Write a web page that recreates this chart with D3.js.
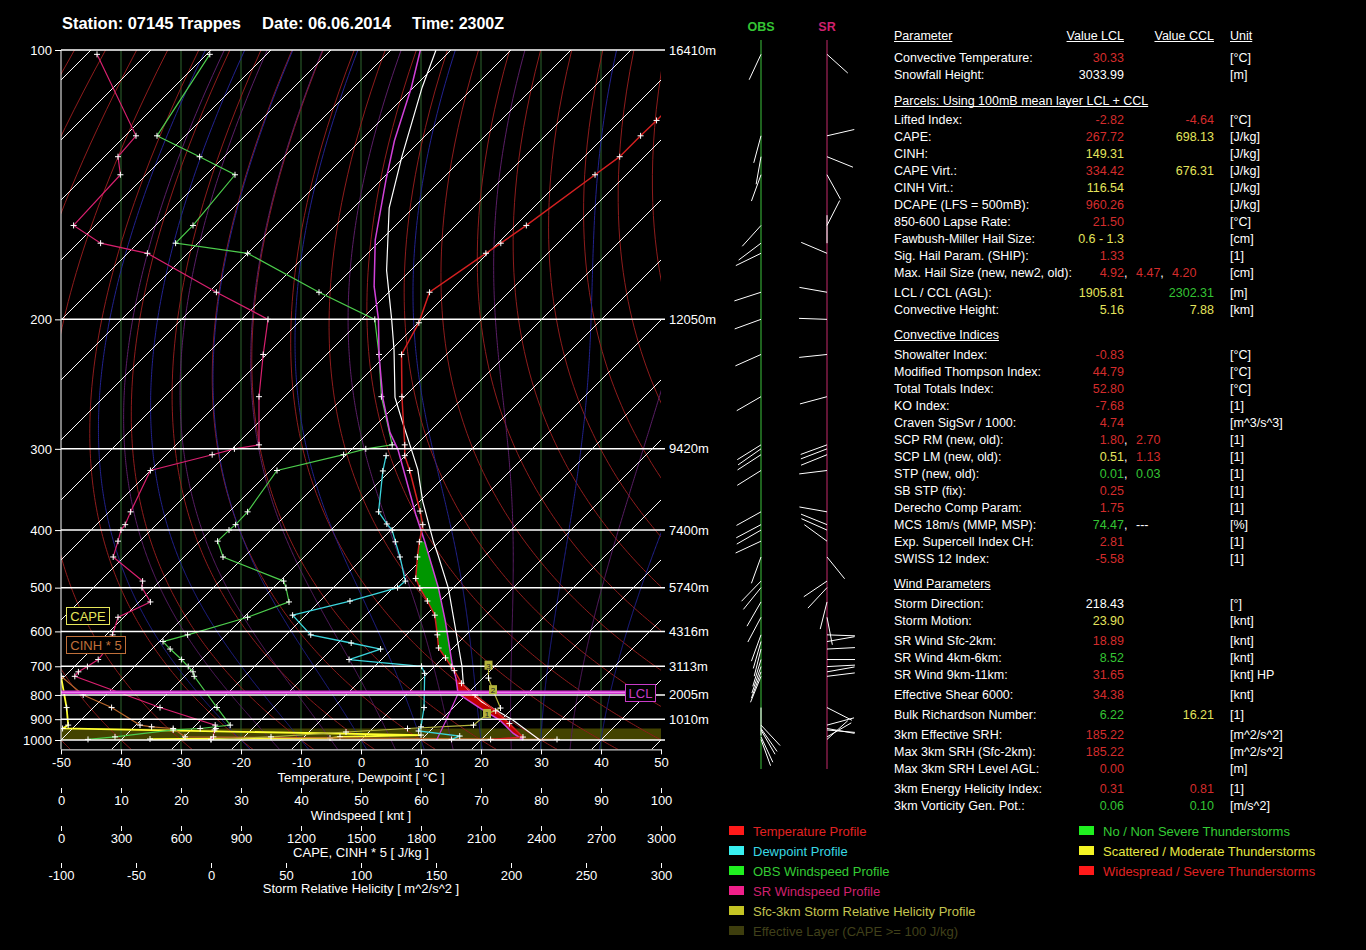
<!DOCTYPE html>
<html><head><meta charset="utf-8">
<script src="https://cdn.jsdelivr.net/npm/d3@7"></script>
<style>
body{margin:0;background:#000;}
svg{display:block;}
text{font-family:"Liberation Sans",Arial,sans-serif;}
</style></head><body>
<svg id="c" width="1366" height="950"></svg>
<script>
// ================= DATA =================
const stationTitle = ["Station: 07145 Trappes", "Date: 06.06.2014", "Time: 2300Z"];
const pressureTicks = [100,200,300,400,500,600,700,800,900,1000];
const heightLabels = ["16410m","12050m","9420m","7400m","5740m","4316m","3113m","2005m","1010m"];
const tempTicks = [-50,-40,-30,-20,-10,0,10,20,30,40,50];
const windTicks = [0,10,20,30,40,50,60,70,80,90,100];
const capeTicks = [0,300,600,900,1200,1500,1800,2100,2400,2700,3000];
const srhTicks = [-100,-50,0,50,100,150,200,250,300];

// environmental temperature (hPa, °C)
const tempP = [100,118,122.5,129,135,154,161.5,166,185,202,222,253,296,307,323,373,392,418,443,482,501,528,560,609,645,674,701,714,757,800,864,920,985,997];
const tempT = [-54,-54,-54.1,-54.1,-55.2,-58.2,-59.5,-60.3,-63.2,-59.9,-57.5,-50.4,-41.9,-40.1,-36.8,-28.3,-25.6,-23.3,-21.1,-17.8,-15.5,-12.1,-8.5,-4.8,-2.4,0.4,2.8,4.0,7.3,11.5,17.6,22.0,26.5,21.5];
// dewpoint
const dewP = [307,323.5,374,391,400,418,443,487,500,528,560,609,631,648,679,700,723,850,935,955,980,997];
const dewT = [-43.2,-41.2,-35.1,-31.7,-29.8,-27.3,-24,-19.1,-19.3,-25,-32.2,-25.9,-17.8,-11.9,-15.4,-2.2,-0.5,5.1,7.8,8.1,15.8,15];
// 100mb mean-layer parcel (magenta)
const parcelP = [100,109,124,137,160,182,200,222,253.5,284,300.5,331,378,418,501,575,694,739,795,850,904,967,1000];
const parcelT = [-105.1,-100.4,-94.3,-89.1,-81,-73.4,-67.2,-61.25,-53.5,-46.45,-42.3,-36.3,-28.4,-22.4,-12.4,-5.7,2.6,5.5,8.45,14.3,19.8,24.3,27.05];
const parcelMixP = [795,900,1000];
const parcelMixT = [8.45,10.8,12.6];
// convective temperature parcel (white)
const cclP = [100,109,129,147,174,200,219,253.5,274,300.5,322,360,418,440,501.5,609,701,763,826,904.5,1000];
const cclT = [-102.5,-98.6,-90.4,-84,-74,-65,-59.5,-51.45,-46.2,-40.05,-35.6,-29.5,-20.95,-17.95,-10.7,-1.6,4.6,7.9,13.7,22.05,29.8];
// winds
const windP  = [101,122.5,129,135,154,161.5,166,185,200,222,253,296,300,306,323,374,392,400,417,443,487,500,530,565,609,627,648,679,701,718,733,850,927,943,950,984,997];
const obsSpeed = [24.8,16,23.1,29,22,19.1,31.1,43,52.3,53,53.4,55.2,50.8,47.1,36,31.1,29.1,28,26.1,27,37.1,37.5,38,31.1,21.1,17,18.2,20.1,21.2,22,22.2,26,28.2,23.2,18.7,9,4.5];
const obsDir   = [205,195,190,200,222,233,244,252,250,246,240,238,235,237,238,241,242,240,245,200,224,219,210,208,200,196,194,197,199,200,202,180,137,145,150,155,160];
const srSpeed  = [6,12.5,9.5,9.9,2.1,6.6,14.4,25.9,34.5,33.7,33,33,28.9,25.2,14.9,11.6,10.7,10,9.5,8.7,13.6,13.5,14.9,9.5,8.6,7.6,7.6,6.2,4.4,2.9,2.3,16.5,25.7,25.8,25.6,25.4,25];
const srDir    = [132,77,112,151,27,0,293,280,272,264,255,250,249,248,263,280,292,294,306,141,236,223,194,169,92,80,87,90,87,80,83,117,75,100,95,60,48];
// CAPE / CINH*5 / SRH profiles
const capeP = [733,850,927,943,975,984,990,995];
const capeV = [0,28,36,8,1800,1395,1345,445];
const cinhP = [733,800,850,927,935,943,984,997];
const cinhV5 = [0,111,253,395,453,561,620,2480];
const srhP = [698,739,782,852,877,927,943,960,984,997];
const srhV = [185,185,188,193,184,175,131,90,40,0];
const srhMarkIdx = [4,2,0];
const srhMarkLbl = ["1","2","3"];
const lclP = 790;
const effLayerP = [943,1000];
const capeLayerP = [418,701];
const cinLayerP = [735,990];

// table
const tblHead = ["Parameter","Value LCL","Value CCL","Unit"];
const sectionTitles = ["Parcels: Using 100mB mean layer LCL + CCL","Convective Indices","Wind Parameters"];
const paramLabels = ["Convective Temperature:","Snowfall Height:",
 "Lifted Index:","CAPE:","CINH:","CAPE Virt.:","CINH Virt.:","DCAPE (LFS = 500mB):","850-600 Lapse Rate:","Fawbush-Miller Hail Size:","Sig. Hail Param. (SHIP):","Max. Hail Size (new, new2, old):","LCL / CCL (AGL):","Convective Height:",
 "Showalter Index:","Modified Thompson Index:","Total Totals Index:","KO Index:","Craven SigSvr / 1000:","SCP RM (new, old):","SCP LM (new, old):","STP (new, old):","SB STP (fix):","Derecho Comp Param:","MCS 18m/s (MMP, MSP):","Exp. Supercell Index CH:","SWISS 12 Index:",
 "Storm Direction:","Storm Motion:","SR Wind Sfc-2km:","SR Wind 4km-6km:","SR Wind 9km-11km:","Effective Shear 6000:","Bulk Richardson Number:","3km Effective SRH:","Max 3km SRH (Sfc-2km):","Max 3km SRH Level AGL:","3km Energy Helicity Index:","3km Vorticity Gen. Pot.:"];
// value strings "class|value" ; multiple values separated by ";"
const lclValues = ["hi|30.33","na|3033.99",
 "hi|-2.82","hi|267.72","mid|149.31","hi|334.42","mid|116.54","hi|960.26","hi|21.50","mid|0.6 - 1.3","hi|1.33","hi|4.92;hi|4.47;hi|4.20","mid|1905.81","mid|5.16",
 "hi|-0.83","hi|44.79","hi|52.80","hi|-7.68","hi|4.74","hi|1.80;hi|2.70","mid|0.51;hi|1.13","low|0.01;low|0.03","hi|0.25","hi|1.75","low|74.47;na|---","hi|2.81","hi|-5.58",
 "na|218.43","mid|23.90","hi|18.89","low|8.52","hi|31.65","hi|34.38","low|6.22","hi|185.22","hi|185.22","hi|0.00","hi|0.31","low|0.06"];
const cclValues = ["","",
 "hi|-4.64","mid|698.13","","mid|676.31","","","","","","","low|2302.31","mid|7.88",
 "","","","","","","","","","","","","",
 "","","","","","","mid|16.21","","","","hi|0.81","low|0.10"];
const paramUnits = ["[°C]","[m]",
 "[°C]","[J/kg]","[J/kg]","[J/kg]","[J/kg]","[J/kg]","[°C]","[cm]","[1]","[cm]","[m]","[km]",
 "[°C]","[°C]","[°C]","[1]","[m^3/s^3]","[1]","[1]","[1]","[1]","[1]","[%]","[1]","[1]",
 "[°]","[knt]","[knt]","[knt]","[knt] HP","[knt]","[1]","[m^2/s^2]","[m^2/s^2]","[m]","[1]","[m/s^2]"];
const legendLeft = ["Temperature Profile","Dewpoint Profile","OBS Windspeed Profile","SR Windspeed Profile","Sfc-3km Storm Relative Helicity Profile","Effective Layer (CAPE >= 100 J/kg)"];
const legendRight = ["No / Non Severe Thunderstorms","Scattered / Moderate Thunderstorms","Widespread / Severe Thunderstorms"];

// ================= STYLE / LAYOUT =================
const C = {
  temp:"#d42020", dew:"#3ad4dc", obs:"#4ccc4c", sr:"#d8206e", parcel:"#d040d8", ccl:"#ffffff",
  cape:"#ffff30", cinh:"#b8662c", srh:"#b4b43c", eff:"#434300",
  dry:"#8e1c1c", moist:"#22228e", moist2:"#5a1e66", grid:"#2f662f",
  hi:"#d42c2c", mid:"#e4e45c", low:"#34c434", na:"#ffffff"
};
const legendLeftCol = [["#ff1a1a","#e02222"],["#38f0f0","#38d8e4"],["#20f020","#34cc34"],["#f0208a","#d0206e"],["#c4c424","#c4c450"],["#3e3e0e","#40401a"]];
const legendRightCol = [["#20f020","#34cc34"],["#f4f424","#e8e844"],["#ff1a1a","#e02222"]];

const svg = d3.select("#c");
svg.append("rect").attr("width",1366).attr("height",950).attr("fill","#000");

const yP = d3.scalePow().exponent(-0.354).domain([100,1000]).range([50,740]);
const xT = d3.scaleLinear().domain([-50,50]).range([61,661]);
const xW = d3.scaleLinear().domain([0,100]).range([61,661]);
const xC = d3.scaleLinear().domain([0,3000]).range([61,661]);
const xS = d3.scaleLinear().domain([-100,300]).range([61,661]);
const y1000 = yP(1000);
const skX = (T,p) => xT(T) + (y1000 - yP(p));
const PTOP = 100, PBOT = 1050;
const plotL = 61, plotR = 661, plotT = yP(PTOP), plotB = yP(PBOT);

svg.append("defs").append("clipPath").attr("id","plotclip").append("rect")
  .attr("x",plotL).attr("y",plotT).attr("width",plotR-plotL).attr("height",plotB-plotT);
const plot = svg.append("g").attr("clip-path","url(#plotclip)");
const line = d3.line();

// effective layer band
plot.append("rect").attr("x",plotL).attr("width",plotR-plotL)
  .attr("y",yP(effLayerP[0])).attr("height",yP(effLayerP[1])-yP(effLayerP[0])).attr("fill",C.eff);

// green windspeed grid
plot.selectAll(".vg").data(windTicks.slice(1,-1)).join("line")
  .attr("x1",d=>xW(d)).attr("x2",d=>xW(d)).attr("y1",plotT).attr("y2",plotB)
  .attr("stroke",C.grid).attr("stroke-width",1);

// dry adiabats
const pLev = d3.range(PBOT, PTOP-1, -5);
d3.range(-60, 211, 10).forEach(th => {
  const pts = pLev.map(p => [skX((th+273.15)*Math.pow(p/1000,0.2857)-273.15, p), yP(p)]);
  plot.append("path").attr("d",line(pts)).attr("fill","none").attr("stroke",C.dry).attr("stroke-width",1);
});
// moist adiabats
function dTdp(T,p){
  const Tc=T-273.15, es=6.112*Math.exp(17.67*Tc/(Tc+243.5)), rs=0.622*es/(p-es);
  const Lv=2.501e6, Rd=287.04, cp=1005.7;
  return (Rd*T+Lv*rs)/(p*(cp+Lv*Lv*rs*0.622/(Rd*T*T)));
}
function moist(tw){
  const out=[]; let T=tw+273.15, p=1000;
  while(p>PTOP){ out.push([p,T]); const h=-2; const k1=dTdp(T,p), k2=dTdp(T+k1*h,p+h); T+=h*(k1+k2)/2; p+=h; }
  out.push([p,T]);
  const dn=[]; T=tw+273.15; p=1000;
  while(p<PBOT){ const h=2; const k1=dTdp(T,p), k2=dTdp(T+k1*h,p+h); T+=h*(k1+k2)/2; p+=h; dn.push([p,T]); }
  return dn.reverse().concat(out);
}
d3.range(-20, 41, 5).forEach((tw,i) => {
  const pts = moist(tw).map(([p,T]) => [skX(T-273.15,p), yP(p)]);
  plot.append("path").attr("d",line(pts)).attr("fill","none")
    .attr("stroke", i%2===0 ? C.moist : C.moist2).attr("stroke-width",1);
});
// isotherms
d3.range(-170, 51, 10).forEach(T => {
  plot.append("line").attr("x1",skX(T,PBOT)).attr("y1",yP(PBOT)).attr("x2",skX(T,PTOP)).attr("y2",yP(PTOP))
    .attr("stroke","#fff").attr("stroke-width",1);
});
// isobars
svg.selectAll(".iso").data(pressureTicks).join("line")
  .attr("x1",plotL).attr("x2",plotR+4).attr("y1",d=>yP(d)).attr("y2",d=>yP(d))
  .attr("stroke","#fff").attr("stroke-width",1.5);

// CAPE / CIN shading
function shade(pRange, aP, aT, bP, bT, color){
  const a = aP.map((p,i)=>[p,aT[i]]).filter(d=>d[0]>=pRange[0]&&d[0]<=pRange[1]);
  const b = bP.map((p,i)=>[p,bT[i]]).filter(d=>d[0]>=pRange[0]&&d[0]<=pRange[1]).reverse();
  const pts = a.concat(b).map(([p,T])=>[skX(T,p),yP(p)]);
  plot.append("path").attr("d",line(pts)+"Z").attr("fill",color).attr("stroke","none");
}
shade(capeLayerP, parcelP, parcelT, tempP, tempT, "#009600");
shade(cinLayerP, parcelP, parcelT, tempP, tempT, "#c00000");

// LCL line
svg.append("line").attr("x1",plotL).attr("x2",625).attr("y1",yP(lclP)).attr("y2",yP(lclP)).attr("stroke","#d030d0").attr("stroke-width",3.5);
svg.append("line").attr("x1",plotL).attr("x2",625).attr("y1",yP(lclP)).attr("y2",yP(lclP)).attr("stroke","#f090f0").attr("stroke-width",1);

// profiles
function prof(P, V, xf, color, w, markers){
  const pts = P.map((p,i)=>[xf(V[i],p), yP(p)]);
  plot.append("path").attr("d",line(pts)).attr("fill","none").attr("stroke",color).attr("stroke-width",w);
  if(markers){
    plot.append("path").attr("d", pts.map(([x,y])=>`M${x-3},${y}h6M${x},${y-3}v6`).join(""))
      .attr("stroke","#fff").attr("stroke-width",1).attr("fill","none");
  }
}
const skewF = (T,p)=>skX(T,p);
prof(capeP, capeV, v=>xC(v), C.cape, 1.8, true);
prof(cinhP, cinhV5, v=>xC(v), C.cinh, 1.2, true);
prof(srhP, srhV, v=>xS(v), C.srh, 1.2, true);
prof(windP, obsSpeed, v=>xW(v), C.obs, 1.2, true);
prof(windP, srSpeed, v=>xW(v), C.sr, 1.2, true);
prof(cclP, cclT, skewF, C.ccl, 1.2, false);
prof(parcelP, parcelT, skewF, C.parcel, 1.5, false);
prof(parcelMixP, parcelMixT, skewF, C.parcel, 1.2, false);
prof(dewP, dewT, skewF, C.dew, 1.3, true);
prof(tempP, tempT, skewF, C.temp, 1.5, true);

// SRH km markers
srhMarkIdx.forEach((idx,k)=>{
  const x = xS(srhV[idx]), y = yP(srhP[idx]);
  svg.append("rect").attr("x",x-4).attr("y",y-5).attr("width",8).attr("height",9).attr("fill","#b4b43c");
  svg.append("text").attr("x",x).attr("y",y+3).attr("text-anchor","middle").attr("font-size",8).attr("fill","#222").text(srhMarkLbl[k]);
});

// label boxes
function boxLabel(x,y,w,h,txt,color){
  svg.append("rect").attr("x",x).attr("y",y).attr("width",w).attr("height",h).attr("fill","#000").attr("stroke",color).attr("stroke-width",1);
  svg.append("text").attr("x",x+w/2).attr("y",y+h/2+4.5).attr("text-anchor","middle").attr("font-size",13).attr("fill",color).text(txt);
}
boxLabel(66.5,607.5,43,17,"CAPE","#e6e65a");
boxLabel(66.5,636.5,59,17,"CINH * 5","#c0703a");
boxLabel(625.5,684.5,30,17,"LCL","#c83cc8");

// axes
function styleAxis(g){
  g.attr("font-family","Liberation Sans, Arial, sans-serif").attr("font-size",13);
  g.selectAll("text").attr("fill","#fff");
  g.selectAll("line").attr("stroke","#fff");
  g.selectAll("path.domain").attr("stroke","#fff");
}
const gL = svg.append("g").attr("transform",`translate(${plotL},0)`)
  .call(d3.axisLeft(yP).tickValues(pressureTicks).tickSize(6).tickFormat(d=>String(d)));
styleAxis(gL); gL.select("path.domain").remove();
svg.append("line").attr("x1",plotL).attr("x2",plotL).attr("y1",plotT).attr("y2",plotB).attr("stroke","#fff");
svg.selectAll(".hl").data(heightLabels).join("text")
  .attr("x",669).attr("y",(d,i)=>yP(pressureTicks[i])+4.5).attr("font-size",13).attr("fill","#fff").text(d=>d);

const gT = svg.append("g").attr("transform",`translate(0,${plotB})`)
  .call(d3.axisBottom(xT).tickValues(tempTicks).tickSize(5).tickSizeOuter(0).tickFormat(d=>String(d)));
styleAxis(gT);
const gW = svg.append("g").attr("transform","translate(0,788)")
  .call(d3.axisBottom(xW).tickValues(windTicks).tickSize(5).tickFormat(d=>String(d)));
styleAxis(gW); gW.select("path.domain").remove();
const gC = svg.append("g").attr("transform","translate(0,826)")
  .call(d3.axisBottom(xC).tickValues(capeTicks).tickSize(5).tickFormat(d=>String(d)));
styleAxis(gC); gC.select("path.domain").remove();
const gS = svg.append("g").attr("transform","translate(0,863)")
  .call(d3.axisBottom(xS).tickValues(srhTicks).tickSize(5).tickFormat(d=>String(d)));
styleAxis(gS); gS.select("path.domain").remove();
const axisTitles = [["Temperature, Dewpoint [ °C ]",781.5],["Windspeed [ knt ]",819.5],["CAPE, CINH * 5 [ J/kg ]",856.5],["Storm Relative Helicity [ m^2/s^2 ]",892.5]];
axisTitles.forEach(([t,y])=>svg.append("text").attr("x",361).attr("y",y).attr("text-anchor","middle").attr("font-size",13).attr("fill","#fff").text(t));

// title
const titleX = [62,262,412], titleW = [179,129,92];
stationTitle.forEach((t,i)=>svg.append("text").attr("x",titleX[i]).attr("y",29).attr("font-size",16).attr("font-weight","bold")
  .attr("fill","#fff").attr("textLength",titleW[i]).attr("lengthAdjust","spacingAndGlyphs").text(t));

// wind direction sticks
const obsX = 761, srX = 827, stickLen = 28;
svg.append("line").attr("x1",obsX).attr("x2",obsX).attr("y1",40).attr("y2",769).attr("stroke","#3cc43c");
svg.append("line").attr("x1",srX).attr("x2",srX).attr("y1",40).attr("y2",769).attr("stroke","#c42a6a");
svg.append("text").attr("x",obsX).attr("y",31).attr("text-anchor","middle").attr("font-size",12.5).attr("font-weight","bold").attr("fill","#34c434").text("OBS");
svg.append("text").attr("x",srX).attr("y",31).attr("text-anchor","middle").attr("font-size",12.5).attr("font-weight","bold").attr("fill","#d0206e").text("SR");
function sticks(ax, dirs){
  svg.append("g").selectAll("line").data(windP).join("line")
    .attr("x1",ax).attr("y1",p=>yP(p))
    .attr("x2",(p,i)=>ax+stickLen*Math.sin(dirs[i]*Math.PI/180))
    .attr("y2",(p,i)=>yP(p)-stickLen*Math.cos(dirs[i]*Math.PI/180))
    .attr("stroke","#fff").attr("stroke-width",1);
}
sticks(obsX, obsDir);
sticks(srX, srDir);

// table
const TX = {label:894, lcl:1124, ccl:1214, unit:1230, second:1136, third:1172};
const rowY = [57,74, 119,136,153,170,187,204,221,238,255,272,292,309, 354,371,388,405,422,439,456,473,490,507,524,541,558, 603,620,640,657,674,694,714,734,751,768,788,805];
const sectionY = [100,334,583];
const tg = svg.append("g").attr("font-size",12.5);
function uText(x,y,t,anchor){
  const el = tg.append("text").attr("x",x).attr("y",y).attr("fill","#fff").attr("text-anchor",anchor||"start").text(t);
  const w = el.node().getComputedTextLength();
  const x0 = anchor==="end" ? x-w : x;
  tg.append("line").attr("x1",x0).attr("x2",x0+w).attr("y1",y+2).attr("y2",y+2).attr("stroke","#fff").attr("stroke-width",1);
}
uText(TX.label,39.5,tblHead[0]); uText(TX.lcl,39.5,tblHead[1],"end"); uText(TX.ccl,39.5,tblHead[2],"end"); uText(TX.unit,39.5,tblHead[3]);
sectionTitles.forEach((t,i)=>uText(TX.label,sectionY[i]+4.5,t));
const parseVals = s => s ? s.split(";").map(v=>v.split("|")) : [];
paramLabels.forEach((lab,i)=>{
  const y = rowY[i]+4.5;
  tg.append("text").attr("x",TX.label).attr("y",y).attr("fill","#fff").text(lab);
  tg.append("text").attr("x",TX.unit).attr("y",y).attr("fill","#fff").text(paramUnits[i]);
  const lv = parseVals(lclValues[i]);
  lv.forEach(([cls,v],k)=>{
    const x = k===0 ? TX.lcl : (k===1 ? TX.second : TX.third);
    const el = tg.append("text").attr("x",x).attr("y",y).attr("text-anchor",k===0?"end":"start").attr("fill",C[cls]).text(v);
    if(k<lv.length-1){
      const cx = k===0 ? TX.lcl : TX.second + el.node().getComputedTextLength();
      tg.append("text").attr("x",cx).attr("y",y).attr("fill","#fff").text(",");
    }
  });
  parseVals(cclValues[i]).forEach(([cls,v])=>{
    tg.append("text").attr("x",TX.ccl).attr("y",y).attr("text-anchor","end").attr("fill",C[cls]).text(v);
  });
});

// legend
const legRowY = [831,851,871,891,911,931];
legendLeft.forEach((t,i)=>{
  svg.append("rect").attr("x",729).attr("y",legRowY[i]-5).attr("width",15).attr("height",9).attr("fill",legendLeftCol[i][0]);
  svg.append("text").attr("x",753).attr("y",legRowY[i]+4.5).attr("font-size",13).attr("fill",legendLeftCol[i][1]).text(t);
});
legendRight.forEach((t,i)=>{
  svg.append("rect").attr("x",1079).attr("y",legRowY[i]-5).attr("width",15).attr("height",9).attr("fill",legendRightCol[i][0]);
  svg.append("text").attr("x",1103).attr("y",legRowY[i]+4.5).attr("font-size",13).attr("fill",legendRightCol[i][1]).text(t);
});
</script></body></html>
